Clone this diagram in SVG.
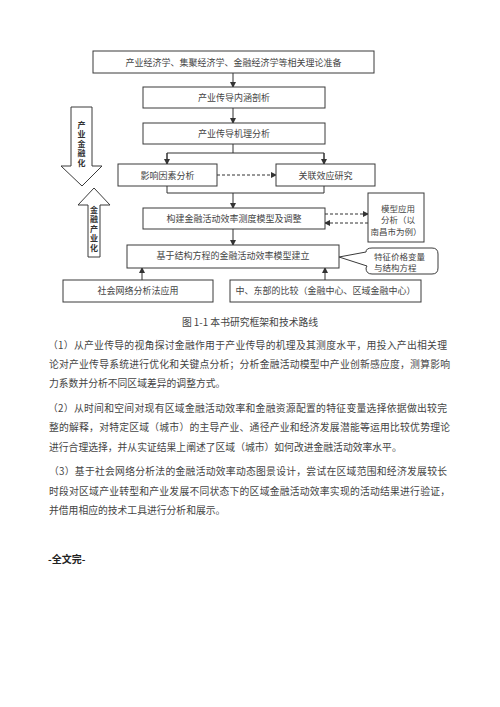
<svg xmlns="http://www.w3.org/2000/svg" width="500" height="707" viewBox="0 0 500 707">
<defs>
<style>
.box{fill:#fff;stroke:#3a3a3a;stroke-width:1}
.bt{font-family:"Noto Sans CJK SC","Noto Sans",sans-serif;font-size:9px;fill:#444;text-anchor:middle;dominant-baseline:central}
.st{font-size:8.5px}
.ln{fill:none;stroke:#333;stroke-width:1}
.dash{fill:none;stroke:#333;stroke-width:1;stroke-dasharray:3,2}
.pt{font-family:"Noto Sans CJK SC","Noto Sans",sans-serif;font-size:9.8px;fill:#444;dominant-baseline:central}
.at{font-family:"Noto Sans CJK SC","Noto Sans",sans-serif;font-size:8px;font-weight:bold;fill:#333;text-anchor:middle;dominant-baseline:central}
</style>
<marker id="ah" markerWidth="6" markerHeight="6" refX="5" refY="3" orient="auto" markerUnits="userSpaceOnUse">
<path d="M0,0 L6,3 L0,6 z" fill="#333"/>
</marker>
</defs>
<rect width="500" height="707" fill="#fff"/>

<g id="connectors">
<line class="ln" x1="233" y1="73" x2="233" y2="87" marker-end="url(#ah)"/>
<line class="ln" x1="233" y1="108" x2="233" y2="123" marker-end="url(#ah)"/>
<polyline class="ln" points="233,144 233,153"/>
<polyline class="ln" points="167,164 167,153 324,153 324,164"/>
<line class="ln" x1="167" y1="153" x2="167" y2="164" marker-end="url(#ah)"/>
<line class="ln" x1="324" y1="153" x2="324" y2="164" marker-end="url(#ah)"/>
<line class="dash" x1="217" y1="175" x2="276" y2="175" marker-end="url(#ah)"/>
<polyline class="ln" points="167,186 167,193 324,193 324,186"/>
<line class="ln" x1="233" y1="193" x2="233" y2="208" marker-end="url(#ah)"/>
<line class="dash" x1="325" y1="214" x2="368" y2="214" marker-end="url(#ah)"/>
<line class="dash" x1="368" y1="223" x2="325" y2="223" marker-end="url(#ah)"/>
<line class="ln" x1="233" y1="229" x2="233" y2="245" marker-end="url(#ah)"/>
<line class="ln" x1="142" y1="280" x2="142" y2="268" marker-end="url(#ah)"/>
<line class="ln" x1="325" y1="280" x2="325" y2="268" marker-end="url(#ah)"/>
</g>

<g id="n1"><rect class="box" x="93" y="51" width="281" height="22"/><text class="bt" x="233.5" y="62">产业经济学、集聚经济学、金融经济学等相关理论准备</text></g>
<g id="n2"><rect class="box" x="143" y="87" width="182" height="21"/><text class="bt" x="234" y="97.5">产业传导内涵剖析</text></g>
<g id="n3"><rect class="box" x="143" y="123" width="182" height="21"/><text class="bt" x="234" y="133.5">产业传导机理分析</text></g>
<g id="n4"><rect class="box" x="118" y="164" width="99" height="22"/><text class="bt" x="167.5" y="175">影响因素分析</text></g>
<g id="n5"><rect class="box" x="276" y="164" width="99" height="22"/><text class="bt" x="325.5" y="175">关联效应研究</text></g>
<g id="n6"><rect class="box" x="143" y="208" width="182" height="21"/><text class="bt" x="234" y="218.5">构建金融活动效率测度模型及调整</text></g>
<g id="n7"><rect class="box" x="368" y="193" width="56" height="49"/>
<text class="bt st" x="398" y="207.5">模型应用</text>
<text class="bt st" x="398" y="219">分析（以</text>
<text class="bt st" x="396" y="230.5">南昌市为例）</text></g>
<g id="n8"><rect class="box" x="127" y="245" width="212" height="23"/><text class="bt" x="233" y="255">基于结构方程的金融活动效率模型建立</text></g>
<g id="n9"><path d="M339,257 L366,252 Q366,248 372,248 L432,248 Q438,248 438,254 L438,268 Q438,274 432,274 L372,274 Q366,274 366,268 L367,266 Z" fill="#fff" stroke="#3a3a3a" stroke-width="1"/>
<text class="bt st" x="374" y="255.5" style="text-anchor:start">特征价格变量</text>
<text class="bt st" x="374" y="266.5" style="text-anchor:start">与结构方程</text></g>
<g id="n10"><rect class="box" x="63" y="280" width="150" height="22"/><text class="bt" x="138" y="290">社会网络分析法应用</text></g>
<g id="n11"><rect class="box" x="230" y="280" width="191" height="22"/><text class="bt" x="325.5" y="290">中、东部的比较（金融中心、区域金融中心）</text></g>

<g id="arrowDown"><path d="M71,107 L92,107 L92,166 L102,166 L82,186 L61,166 L71,166 Z" fill="#fff" stroke="#3a3a3a" stroke-width="1"/>
<text class="at" x="81.5" y="124">产</text><text class="at" x="81.5" y="133.5">业</text><text class="at" x="81.5" y="143">金</text><text class="at" x="81.5" y="152.5">融</text><text class="at" x="81.5" y="162">化</text></g>
<g id="arrowUp"><path d="M94,188 L110,205 L100,205 L100,257 L88,257 L88,205 L78,205 Z" fill="#fff" stroke="#3a3a3a" stroke-width="1"/>
<text class="at" x="94" y="209">金</text><text class="at" x="94" y="218.5">融</text><text class="at" x="94" y="228">产</text><text class="at" x="94" y="237.5">业</text><text class="at" x="94" y="247">化</text></g>

<text class="pt" x="250" y="322" style="text-anchor:middle">图 1-1  本书研究框架和技术路线</text>
<text class="pt" x="48" y="345" textLength="399" lengthAdjust="spacing">（1）从产业传导的视角探讨金融作用于产业传导的机理及其测度水平，用投入产出相关理</text>
<text class="pt" x="49" y="364" textLength="401" lengthAdjust="spacing">论对产业传导系统进行优化和关键点分析；分析金融活动模型中产业创新感应度，测算影响</text>
<text class="pt" x="49" y="383">力系数并分析不同区域差异的调整方式。</text>
<text class="pt" x="48" y="408" textLength="399" lengthAdjust="spacing">（2）从时间和空间对现有区域金融活动效率和金融资源配置的特征变量选择依据做出较完</text>
<text class="pt" x="49" y="427" textLength="401" lengthAdjust="spacing">整的解释，对特定区域（城市）的主导产业、通径产业和经济发展潜能等运用比较优势理论</text>
<text class="pt" x="49" y="447">进行合理选择，并从实证结果上阐述了区域（城市）如何改进金融活动效率水平。</text>
<text class="pt" x="49" y="471" textLength="398" lengthAdjust="spacing">（3）基于社会网络分析法的金融活动效率动态图景设计，尝试在区域范围和经济发展较长</text>
<text class="pt" x="49" y="491" textLength="401" lengthAdjust="spacing">时段对区域产业转型和产业发展不同状态下的区域金融活动效率实现的活动结果进行验证，</text>
<text class="pt" x="49" y="510">并借用相应的技术工具进行分析和展示。</text>
<text class="pt" x="48" y="558" style="font-weight:bold;font-size:10px;fill:#222">-全文完-</text>
</svg>
